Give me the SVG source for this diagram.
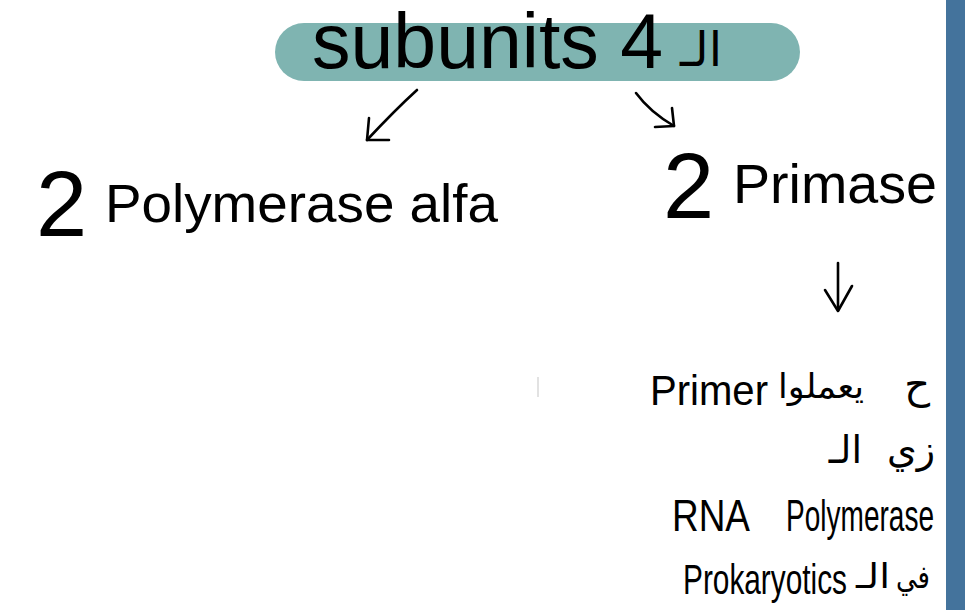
<svg xmlns="http://www.w3.org/2000/svg" width="965" height="610" viewBox="0 0 965 610">
<style>
.t{font-family:"Liberation Sans","Noto Sans",Arial,sans-serif;fill:#000}
.h{font-family:"Liberation Sans","DejaVu Sans",sans-serif;fill:#000;font-weight:normal}
.ar{font-family:"Noto Sans","DejaVu Sans",sans-serif;fill:#000}
.c{fill:none;stroke:#000;stroke-width:2.6;stroke-linecap:round;stroke-linejoin:round}
</style>
<rect width="965" height="610" fill="#fff"/>
<rect x="946" y="0" width="19" height="610" fill="#44739c"/>
<g id="header">
<rect x="275" y="23" width="525" height="58" rx="29" fill="#7fb4b1"/>
<text class="t" x="312" y="68" font-size="77">subunits 4</text>
<text class="ar" x="722" y="66" font-size="48" text-anchor="end">الـ</text>
</g>
<g id="polymerase">
<text class="t" x="36" y="236" font-size="92">2</text>
<text class="t" x="105" y="222" font-size="54" textLength="393" lengthAdjust="spacingAndGlyphs">Polymerase alfa</text>
</g>
<g id="primase">
<text class="t" x="663" y="218" font-size="92">2</text>
<text class="t" x="733" y="203" font-size="55" textLength="204" lengthAdjust="spacingAndGlyphs">Primase</text>
</g>
<g id="note">
<text class="h" x="650" y="405" font-size="42" textLength="118" lengthAdjust="spacingAndGlyphs">Primer</text>
<text class="ar" x="864" y="398" font-size="34" text-anchor="end" textLength="86" lengthAdjust="spacingAndGlyphs">يعملوا</text>
<text class="ar" x="930" y="398" font-size="40" text-anchor="end">ح</text>
<text class="ar" x="935" y="463" font-size="38" text-anchor="end">زي</text>
<text class="ar" x="862" y="463" font-size="38" text-anchor="end">الـ</text>
<text class="h" x="672" y="531" font-size="44" textLength="78" lengthAdjust="spacingAndGlyphs">RNA</text>
<text class="h" x="786" y="531" font-size="44" textLength="148" lengthAdjust="spacingAndGlyphs">Polymerase</text>
<text class="h" x="683" y="594" font-size="42" textLength="164" lengthAdjust="spacingAndGlyphs">Prokaryotics</text>
<text class="ar" x="930" y="588" font-size="32" text-anchor="end" textLength="34" lengthAdjust="spacingAndGlyphs">في</text>
<text class="ar" x="890" y="588" font-size="34" text-anchor="end" textLength="34" lengthAdjust="spacingAndGlyphs">الـ</text>
</g>
<line x1="538" y1="377" x2="538" y2="397" stroke="#cfcfcf" stroke-width="1.2"/>
<g id="connectors">
<path class="c" d="M417 90 Q395 110 367 140"/>
<path class="c" d="M369 118 L367 140 L389 140"/>
<path class="c" d="M636 93 Q650 112 674 126"/>
<path class="c" d="M672 108 L674 126 L655 127"/>
<path class="c" d="M838 263 L838 310"/>
<path class="c" d="M825 290 L838 311 L852 286"/>
</g>
</svg>
